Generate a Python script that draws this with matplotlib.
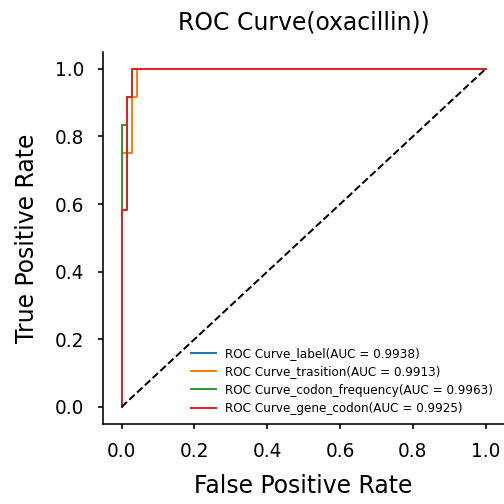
import matplotlib
matplotlib.use("Agg")
import matplotlib.pyplot as plt

n_neg = 69
labels = ["ROC Curve_label(AUC = 0.9938)",
          "ROC Curve_trasition(AUC = 0.9913)",
          "ROC Curve_codon_frequency(AUC = 0.9963)",
          "ROC Curve_gene_codon(AUC = 0.9925)"]
colors = ["#1f77b4", "#ff7f0e", "#2ca02c", "#d62728"]

# fpr steps in units of 1/n_neg, tpr in units of 1/12
fpr_steps = [
    [0, 0, 1, 1, 2, 2, n_neg],
    [0, 0, 2, 2, 3, 3, n_neg],
    [0, 0, 1, 1, 2, 2, n_neg],
    [0, 0, 1, 1, 2, 2, n_neg],
]
tpr_steps = [
    [0, 10, 10, 11, 11, 12, 12],
    [0, 9, 9, 11, 11, 12, 12],
    [0, 10, 10, 11, 11, 12, 12],
    [0, 7, 7, 11, 11, 12, 12],
]

fig = plt.figure(figsize=(7, 7), dpi=72)
ax = fig.add_axes([0.205, 0.159, 0.795, 0.738])

for f, t, c, lab in zip(fpr_steps, tpr_steps, colors, labels):
    ax.plot([v / n_neg for v in f], [v / 12 for v in t], color=c, lw=2, label=lab)
ax.plot([0, 1], [0, 1], "k--", lw=2)

ax.set_xlim(-0.05, 1.05)
ax.set_ylim(-0.05, 1.05)
ax.set_xticks([0, 0.2, 0.4, 0.6, 0.8, 1.0])
ax.set_yticks([0, 0.2, 0.4, 0.6, 0.8, 1.0])
ax.tick_params(labelsize=18.5, length=5, width=1.6)
ax.tick_params(axis="x", pad=13)
ax.tick_params(axis="y", pad=14)
for s in ["top", "right"]:
    ax.spines[s].set_visible(False)
ax.spines["left"].set_linewidth(1.6)
ax.spines["bottom"].set_linewidth(1.6)

ax.set_xlabel("False Positive Rate", fontsize=23.5, labelpad=13)
ax.set_ylabel("True Positive Rate", fontsize=23.5, labelpad=16)
ax.set_title("ROC Curve(oxacillin))", fontsize=23.5, pad=22)
ax.legend(loc="lower right", fontsize=12, frameon=False,
          handlelength=2.1, labelspacing=0.45, bbox_to_anchor=(1.0, -0.005))

fig.savefig("out.png", dpi=72)
